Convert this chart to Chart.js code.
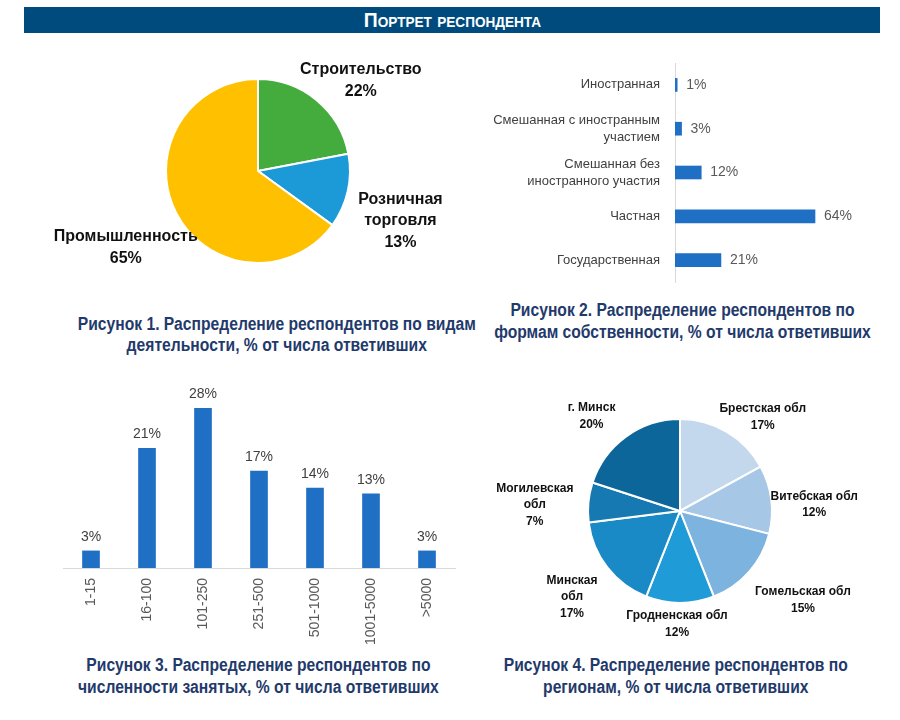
<!DOCTYPE html>
<html>
<head>
<meta charset="utf-8">
<script src="https://cdn.jsdelivr.net/npm/chart.js@4"></script>
<style>
  body { margin: 0; background: #fff; }
  #page { position: relative; width: 900px; height: 720px; overflow: hidden; }
  .header {
    position: absolute; left: 24px; top: 7px; width: 856px; height: 26px;
    background: #004b7d; color: #fff; text-align: center;
    font: bold 20px "Liberation Sans", Arial, sans-serif;
    font-variant: small-caps; line-height: 26px;
  }
  .header span { display: inline-block; transform: scaleX(0.97); }
  .caption {
    position: absolute; width: 420px; text-align: center; white-space: nowrap;
    color: #1f3a6b; font: bold 18px "Liberation Sans", Arial, sans-serif;
    line-height: 22px;
  }
  .caption span { display: inline-block; transform: scaleX(0.87); }
  canvas { position: absolute; }
</style>
</head>
<body>
<div id="page">
  <div class="header"><span>Портрет респондента</span></div>

  <canvas id="activity" width="420" height="240" style="left:40px;top:50px"></canvas>
  <canvas id="ownership" width="420" height="240" style="left:470px;top:50px"></canvas>
  <canvas id="staff" width="420" height="270" style="left:40px;top:380px"></canvas>
  <canvas id="regions" width="420" height="270" style="left:470px;top:380px"></canvas>

  <div class="caption" style="left:48px;top:314px;line-height:21px"><span>Рисунок 1. Распределение респондентов по видам<br>деятельности, % от числа ответивших</span></div>
  <div class="caption" style="left:466px;top:299px"><span>Рисунок 2. Распределение респондентов по<br>формам собственности, % от числа ответивших</span></div>
  <div class="caption" style="left:48px;top:654px"><span>Рисунок 3. Распределение респондентов по<br>численности занятых, % от числа ответивших</span></div>
  <div class="caption" style="left:466px;top:654px"><span>Рисунок 4. Распределение респондентов по<br>регионам, % от числа ответивших</span></div>
</div>

<script>
// figure 1 - by activity
var activityLabels = [["Строительство"], ["Розничная", "торговля"], ["Промышленность"]];
var activityValues = [22, 13, 65];

// figure 2 - by ownership
var ownershipLabels = ["Иностранная", ["Смешанная с иностранным", "участием"], ["Смешанная без", "иностранного участия"], "Частная", "Государственная"];
var ownershipValues = [1, 3, 12, 64, 21];

// figure 3 - by number of employees
var staffLabels = ["1-15", "16-100", "101-250", "251-500", "501-1000", "1001-5000", ">5000"];
var staffValues = [3, 21, 28, 17, 14, 13, 3];

// figure 4 - by region
var regionLabels = [["Брестская обл"], ["Витебская обл"], ["Гомельская обл"], ["Гродненская обл"], ["Минская", "обл"], ["Могилевская", "обл"], ["г. Минск"]];
var regionValues = [17, 12, 15, 12, 17, 7, 20];

var SANS = '"Liberation Sans", Arial, sans-serif';
Chart.defaults.animation = false;
Chart.defaults.plugins.legend.display = false;
Chart.defaults.plugins.tooltip.enabled = false;

// text next to pie slices: angle shift (deg) from slice middle and distance as part of radius
var pieLabels = {
   id: "pieLabels",
   afterDatasetsDraw: function (chart, args, opts) {
      var ctx = chart.ctx;
      var meta = chart.getDatasetMeta(0);
      var values = chart.data.datasets[0].data;
      ctx.save();
      ctx.font = opts.font;
      ctx.fillStyle = opts.color;
      ctx.textAlign = "center";
      ctx.textBaseline = "middle";
      meta.data.forEach(function (arc, i) {
         var mid = (arc.startAngle + arc.endAngle) / 2 + (opts.shift[i] * Math.PI) / 180;
         var r = arc.outerRadius * opts.dist[i];
         var x = arc.x + Math.cos(mid) * r;
         var y = arc.y + Math.sin(mid) * r;
         var lines = chart.data.labels[i].concat([values[i] + "%"]);
         lines.forEach(function (t, j) {
            ctx.fillText(t, x, y + (j - (lines.length - 1) / 2) * opts.lineHeight);
         });
      });
      ctx.restore();
   },
};

// percent labels at the end of bars
var barValues = {
   id: "barValues",
   afterDatasetsDraw: function (chart, args, opts) {
      var ctx = chart.ctx;
      var meta = chart.getDatasetMeta(0);
      var values = chart.data.datasets[0].data;
      ctx.save();
      ctx.font = opts.font;
      ctx.fillStyle = opts.color;
      ctx.textBaseline = "middle";
      meta.data.forEach(function (bar, i) {
         if (opts.horizontal) {
            ctx.textAlign = "left";
            ctx.fillText(values[i] + "%", bar.x + 9, bar.y);
         } else {
            ctx.textAlign = "center";
            ctx.fillText(values[i] + "%", bar.x, bar.y - 14);
         }
      });
      ctx.restore();
   },
};

new Chart(document.getElementById("activity"), {
   type: "pie",
   data: {
      labels: activityLabels,
      datasets: [
         {
            data: activityValues,
            backgroundColor: ["#43ac3c", "#1b9ad7", "#ffc000"],
            borderColor: "#fff",
            borderWidth: 2,
            radius: 92,
            hoverOffset: 0,
         },
      ],
   },
   options: {
      responsive: false,
      layout: { padding: { left: 118, right: 102, top: 21, bottom: 19 } },
      plugins: {
         pieLabels: {
            font: "bold 16px " + SANS,
            color: "#111",
            lineHeight: 21.5,
            shift: [9, 6.7, -3],
            dist: [1.49, 1.64, 1.66],
         },
      },
   },
   plugins: [pieLabels],
});

new Chart(document.getElementById("ownership"), {
   type: "bar",
   data: {
      labels: ownershipLabels,
      datasets: [{ data: ownershipValues, backgroundColor: "#1f6fc5", barThickness: 13 }],
   },
   options: {
      responsive: false,
      indexAxis: "y",
      layout: { padding: { left: 0, right: 40, top: 13, bottom: 8 } },
      scales: {
         x: { display: false, min: 0, max: 80 },
         y: {
            grid: { display: false, drawTicks: false },
            border: { display: true, color: "#d9d9d9" },
            ticks: { color: "#404040", padding: 15, font: { family: SANS, size: 13, lineHeight: 1.3 } },
            afterFit: function (scale) {
               scale.width = 205;
               scale.paddingTop = 0;
               scale.paddingBottom = 0;
            },
         },
      },
      plugins: {
         barValues: { horizontal: true, font: "14px " + SANS, color: "#595959" },
      },
   },
   plugins: [barValues],
});

new Chart(document.getElementById("staff"), {
   type: "bar",
   data: {
      labels: staffLabels,
      datasets: [{ data: staffValues, backgroundColor: "#1f6fc5", barThickness: 17 }],
   },
   options: {
      responsive: false,
      layout: { padding: { left: 23, right: 5, top: 17, bottom: 0 } },
      scales: {
         y: { display: false, min: 0, max: 30 },
         x: {
            grid: { display: false, drawTicks: false },
            border: { display: true, color: "#d9d9d9" },
            ticks: {
               color: "#595959",
               padding: 10,
               autoSkip: false,
               minRotation: 90,
               maxRotation: 90,
               font: { family: SANS, size: 14 },
            },
            afterFit: function (scale) {
               scale.height = 82;
            },
         },
      },
      plugins: {
         barValues: { horizontal: false, font: "14px " + SANS, color: "#404040" },
      },
   },
   plugins: [barValues],
});

new Chart(document.getElementById("regions"), {
   type: "pie",
   data: {
      labels: regionLabels,
      datasets: [
         {
            data: regionValues,
            backgroundColor: ["#c3d8ec", "#a6c7e6", "#7db3df", "#1f9bd7", "#1a8ac6", "#1679b2", "#0d6699"],
            borderColor: "#fff",
            borderWidth: 2,
            radius: 92,
            hoverOffset: 0,
         },
      ],
   },
   options: {
      responsive: false,
      layout: { padding: { left: 110, right: 110, top: 31, bottom: 39 } },
      plugins: {
         pieLabels: {
            font: "bold 12px " + SANS,
            color: "#111",
            lineHeight: 16.5,
            shift: [10.8, 4.6, -5.5, 1.5, -0.7, -3, -7],
            dist: [1.36, 1.46, 1.65, 1.23, 1.5, 1.58, 1.41],
         },
      },
   },
   plugins: [pieLabels],
});
</script>
</body>
</html>
